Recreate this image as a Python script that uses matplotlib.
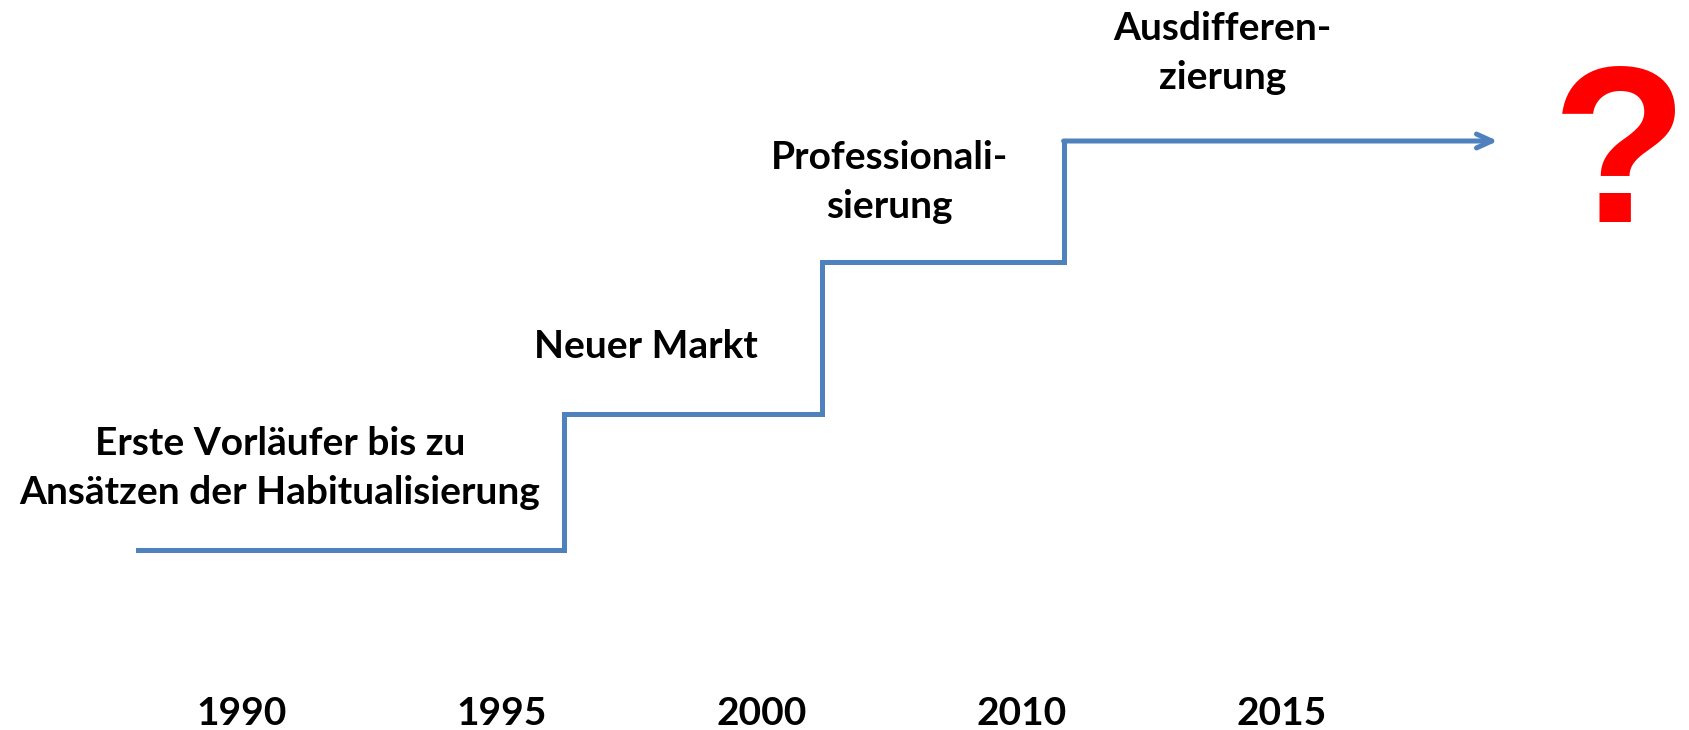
import matplotlib
matplotlib.use('Agg')
import matplotlib.pyplot as plt

# Phases of the market on a year axis (positions are indices into years)
years = ['1990', '1995', '2000', '2010', '2015']
phase_start = [-0.40, 1.24, 2.23, 3.16]
phase_end = 4.83
phase_level = [1.80, 3.16, 4.68, 5.89]
phase_labels = ['Erste Vorläufer bis zu\nAnsätzen der Habitualisierung',
                'Neuer Markt',
                'Professionali-\nsierung',
                'Ausdifferen-\nzierung']
label_x = [0.146, 1.554, 2.49, 3.77]
label_y = [2.62, 3.84, 5.48, 6.77]

blue = '#4F81BD'
plt.rcParams['font.family'] = ['Lato', 'DejaVu Sans']

fig = plt.figure(figsize=(16.89, 7.30), dpi=100)
ax = fig.add_axes([0, 40 / 730, 1, 690 / 730])
ax.set_xlim(-242 / 260, (1689 - 242) / 260)
ax.set_ylim(0.40, 7.30)

# stairs
ax.plot(phase_start, phase_level, drawstyle='steps-post', color=blue, lw=3.6,
        solid_joinstyle='miter')
ax.annotate('', xy=(phase_end, phase_level[-1]), xytext=(phase_start[-1], phase_level[-1]),
            arrowprops=dict(arrowstyle='->,head_length=1.1,head_width=0.5', color=blue,
                            lw=3.6, shrinkA=0, shrinkB=0, capstyle='round'))

for txt, x, y in zip(phase_labels, label_x, label_y):
    ax.text(x, y, txt, ha='center', va='center', fontsize=28, fontweight='bold',
            linespacing=1.48)

ax.text(5.30, 5.66, '?', color='#FF0000', ha='center', va='center', fontsize=160,
        fontweight='bold', family=['Liberation Sans', 'DejaVu Sans'])

ax.set_xticks(range(len(years)))
ax.set_xticklabels(years, fontsize=28, fontweight='bold')
ax.tick_params(axis='x', length=0, pad=4.5)
ax.set_yticks([])
for s in ax.spines.values():
    s.set_visible(False)

fig.savefig('out.png', dpi=100)
